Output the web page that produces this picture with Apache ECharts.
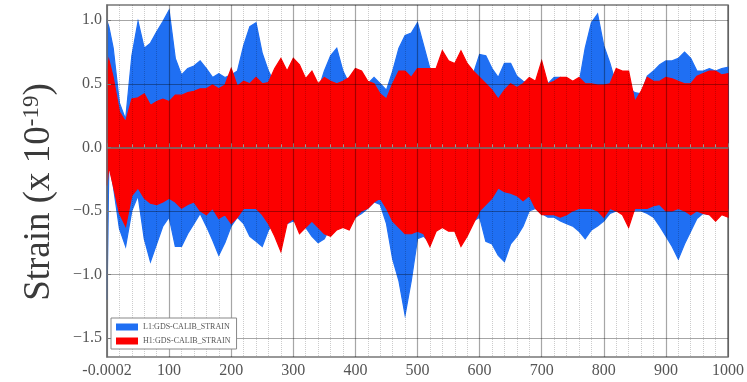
<!DOCTYPE html>
<html>
<head>
<meta charset="utf-8">
<script src="https://cdn.jsdelivr.net/npm/echarts@6/dist/echarts.min.js"></script>
<style>
  html, body { margin: 0; padding: 0; background: #fff; }
  #chart { width: 747px; height: 382px; }
</style>
</head>
<body>
<div id="chart"></div>
<script>
// sample times (s)
const times = [0, 3, 10, 20, 30, 40, 50, 60, 70, 80, 90, 100, 110, 120, 130, 140, 150, 160, 170, 180, 190,
  200, 210, 220, 230, 240, 250, 260, 270, 280, 290, 300, 310, 320, 330, 340, 350, 360, 370, 380, 390,
  400, 410, 420, 430, 440, 450, 460, 470, 480, 490, 500, 510, 520, 530, 540, 550, 560, 570, 580, 590,
  600, 610, 620, 630, 640, 650, 660, 670, 680, 690, 700, 710, 720, 730, 740, 750, 760, 770, 780, 790,
  800, 810, 820, 830, 840, 850, 860, 870, 880, 890, 900, 910, 920, 930, 940, 950, 960, 970, 980, 990, 1000];

// L1 strain envelope (upper / lower), x 1e-19
const l1Upper = [0.99, 0.95, 0.78, 0.35, 0.22, 0.72, 0.99, 0.78, 0.82, 0.91, 0.99,
  1.08, 0.7, 0.57, 0.62, 0.64, 0.68, 0.62, 0.55, 0.58, 0.55,
  0.57, 0.6, 0.8, 0.95, 0.98, 0.74, 0.6, 0.5, 0.5, 0.48,
  0.5, 0.52, 0.5, 0.5, 0.45, 0.6, 0.72, 0.78, 0.6, 0.5,
  0.45, 0.45, 0.5, 0.55, 0.5, 0.45, 0.6, 0.78, 0.88, 0.9,
  0.98, 0.8, 0.62, 0.55, 0.55, 0.55, 0.55, 0.55, 0.55, 0.58,
  0.73, 0.72, 0.62, 0.55, 0.66, 0.66, 0.56, 0.52, 0.5, 0.47,
  0.5, 0.5, 0.55, 0.55, 0.52, 0.47, 0.5, 0.78, 0.98, 1.05,
  0.8, 0.66, 0.49, 0.47, 0.47, 0.43, 0.42, 0.56, 0.6, 0.65,
  0.68, 0.68, 0.7, 0.75, 0.7, 0.6, 0.6, 0.62, 0.6, 0.62, 0.63];
const l1Lower = [-1.2, -0.12, -0.3, -0.64, -0.78, -0.5, -0.38, -0.72, -0.9, -0.76, -0.62,
  -0.55, -0.78, -0.78, -0.68, -0.6, -0.52, -0.62, -0.73, -0.85, -0.75,
  -0.62, -0.55, -0.6, -0.7, -0.74, -0.78, -0.65, -0.6, -0.58, -0.6,
  -0.58, -0.6, -0.63, -0.7, -0.75, -0.72, -0.62, -0.6, -0.58, -0.57,
  -0.55, -0.52, -0.48, -0.43, -0.45, -0.6, -0.88, -1.05, -1.32, -1.05,
  -0.72, -0.7, -0.75, -0.65, -0.6, -0.62, -0.62, -0.7, -0.66, -0.58,
  -0.55, -0.74, -0.76, -0.85, -0.9, -0.76, -0.7, -0.62, -0.5, -0.48,
  -0.52, -0.55, -0.55, -0.58, -0.6, -0.62, -0.66, -0.72, -0.65, -0.62,
  -0.58, -0.52, -0.5, -0.5, -0.52, -0.5, -0.5, -0.52, -0.55, -0.62,
  -0.7, -0.78, -0.88, -0.76, -0.66, -0.56, -0.52, -0.53, -0.53, -0.5, -0.48];

// H1 strain envelope (upper / lower), x 1e-19
const h1Upper = [0.6, 0.69, 0.55, 0.28, 0.2, 0.38, 0.39, 0.42, 0.33, 0.36, 0.38,
  0.36, 0.41, 0.41, 0.43, 0.44, 0.46, 0.46, 0.49, 0.46, 0.49,
  0.62, 0.48, 0.52, 0.5, 0.55, 0.5, 0.51, 0.62, 0.7, 0.6,
  0.7, 0.65, 0.54, 0.6, 0.5, 0.55, 0.52, 0.5, 0.52, 0.55,
  0.62, 0.6, 0.52, 0.5, 0.42, 0.38, 0.5, 0.6, 0.6, 0.55,
  0.62, 0.62, 0.62, 0.62, 0.76, 0.68, 0.66, 0.76, 0.66, 0.6,
  0.55, 0.5, 0.45, 0.38, 0.45, 0.5, 0.47, 0.5, 0.55, 0.52,
  0.68, 0.5, 0.52, 0.55, 0.55, 0.52, 0.55, 0.5, 0.5, 0.49,
  0.49, 0.5, 0.62, 0.6, 0.6, 0.36, 0.44, 0.55, 0.52, 0.52,
  0.55, 0.54, 0.52, 0.5, 0.5, 0.56, 0.58, 0.6, 0.6, 0.57, 0.58];
const h1Lower = [-0.3, -0.15, -0.3, -0.52, -0.62, -0.38, -0.32, -0.4, -0.44, -0.45, -0.43,
  -0.4, -0.43, -0.48, -0.45, -0.43, -0.5, -0.53, -0.48, -0.56, -0.53,
  -0.6, -0.55, -0.48, -0.48, -0.48, -0.53, -0.6, -0.7, -0.82, -0.6,
  -0.56, -0.68, -0.63, -0.58, -0.63, -0.68, -0.7, -0.65, -0.63, -0.65,
  -0.55, -0.5, -0.48, -0.43, -0.4, -0.48, -0.58, -0.63, -0.68, -0.68,
  -0.66, -0.68, -0.78, -0.66, -0.63, -0.66, -0.66, -0.78, -0.7, -0.6,
  -0.5, -0.45, -0.4, -0.32, -0.35, -0.36, -0.38, -0.42, -0.38, -0.48,
  -0.53, -0.53, -0.53, -0.55, -0.53, -0.5, -0.48, -0.48, -0.48, -0.5,
  -0.55, -0.48, -0.5, -0.53, -0.63, -0.48, -0.48, -0.48, -0.46, -0.45,
  -0.5, -0.5, -0.48, -0.5, -0.53, -0.5, -0.52, -0.53, -0.58, -0.53, -0.55];

// tick labels
const xTicks = [0, 100, 200, 300, 400, 500, 600, 700, 800, 900, 1000];
const xTickLabels = ["-0.0002", "100", "200", "300", "400", "500", "600", "700", "800", "900", "1000"];
const yTicks = [-1.5, -1.0, -0.5, 0.0, 0.5, 1.0];
const yTickLabels = ["\u22121.5", "\u22121.0", "\u22120.5", "0.0", "0.5", "1.0"];

const chart = echarts.init(document.getElementById("chart"));
const serif = "Liberation Serif, DejaVu Serif, serif";

// one filled band (upper envelope forward, lower envelope back)
function bandRenderer(upper, lower, color) {
  return function (params, api) {
    if (params.dataIndex !== 0) return null;
    const pts = [];
    for (let i = 0; i < times.length; i++) pts.push(api.coord([times[i], upper[i]]));
    for (let i = times.length - 1; i >= 0; i--) pts.push(api.coord([times[i], lower[i]]));
    return {
      type: "polygon", shape: { points: pts },
      style: { fill: color, stroke: color, lineWidth: 1.2, opacity: 1 }
    };
  };
}

const blue = "#1f6ff3";
const red = "#fc0000";

const option = {
  animation: false,
  grid: { left: 107, right: 17, top: 5, bottom: 25, show: true, borderColor: "#777", borderWidth: 1.5, backgroundColor: "#fff" },
  legend: {
    left: 111, top: 318, orient: "vertical", z: 10,
    icon: "rect", itemWidth: 22, itemHeight: 7, itemGap: 6,
    padding: [5, 6, 4, 5], backgroundColor: "#fff", borderColor: "#888", borderWidth: 1,
    textStyle: { fontFamily: serif, fontSize: 8, color: "#555" },
    data: ["L1:GDS-CALIB_STRAIN", "H1:GDS-CALIB_STRAIN"]
  },
  xAxis: {
    type: "value", min: 0, max: 1000, interval: 100, z: 5,
    axisLine: { show: true, lineStyle: { color: "#777", width: 1.5 } },
    axisTick: { show: true, inside: true, length: 4, lineStyle: { color: "#777" } },
    minorTick: { show: true, splitNumber: 5, length: 3, lineStyle: { color: "#999" } },
    splitLine: { show: true, lineStyle: { color: "rgba(0,0,0,0.35)", width: 1.2 } },
    minorSplitLine: { show: true, lineStyle: { color: "rgba(0,0,0,0.2)", type: "dotted", width: 1 } },
    axisLabel: {
      margin: 6, fontFamily: serif, fontSize: 16, color: "#555",
      formatter: function (v) { const i = xTicks.indexOf(v); return i >= 0 ? xTickLabels[i] : ""; }
    }
  },
  yAxis: {
    type: "value", min: -1.65, max: 1.12, z: 5,
    axisLine: { show: true, lineStyle: { color: "#777", width: 1.5 } },
    axisTick: { show: true, inside: true, length: 4, customValues: yTicks, lineStyle: { color: "#777" } },
    splitLine: { show: true, lineStyle: { color: "rgba(0,0,0,0.35)", width: 1.2 } },
    axisLabel: {
      margin: 5, fontFamily: serif, fontSize: 16, color: "#555", customValues: yTicks,
      formatter: function (v) {
        for (let i = 0; i < yTicks.length; i++) if (Math.abs(yTicks[i] - v) < 1e-6) return yTickLabels[i];
        return "";
      }
    }
  },
  graphic: [{
    type: "text", x: 39, y: 192, rotation: Math.PI / 2,
    style: {
      text: "Strain (x 10{sup|-19})",
      font: "37px " + serif, fill: "#3a3a3a", align: "center", verticalAlign: "middle",
      rich: { sup: { fontSize: 23, fontFamily: serif, fill: "#3a3a3a", verticalAlign: "top", padding: [0, 0, 14, 0] } }
    }
  }],
  series: [
    {
      name: "L1:GDS-CALIB_STRAIN", type: "custom", itemStyle: { color: blue },
      data: times.map((t, i) => [t, l1Lower[i], l1Upper[i]]),
      encode: { x: 0, y: [1, 2] },
      renderItem: bandRenderer(l1Upper, l1Lower, blue), z: 2
    },
    {
      name: "H1:GDS-CALIB_STRAIN", type: "custom", itemStyle: { color: red },
      data: times.map((t, i) => [t, h1Lower[i], h1Upper[i]]),
      encode: { x: 0, y: [1, 2] },
      renderItem: bandRenderer(h1Upper, h1Lower, red), z: 3
    }
  ]
};

chart.setOption(option);
</script>
</body>
</html>
